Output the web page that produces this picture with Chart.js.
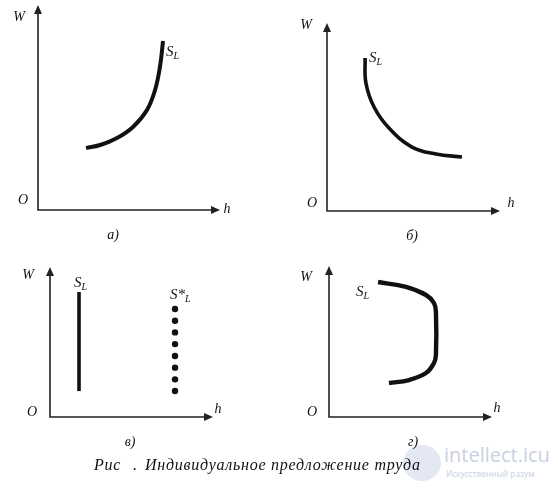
<!DOCTYPE html>
<html>
<head>
<meta charset="utf-8">
<script src="https://cdn.jsdelivr.net/npm/chart.js@4.4.1/dist/chart.umd.min.js"></script>
<style>
  html, body { margin: 0; padding: 0; background: #fff; }
  #wrap { position: relative; width: 558px; height: 490px; overflow: hidden; background: #fff; }
  #wrap canvas { position: absolute; left: 0; top: 0; }
  .cap { position: absolute; font: italic 16px "Liberation Serif", serif; letter-spacing: 0.75px; color: #111; white-space: nowrap; }
  .wm { position: absolute; font-family: "Open Sans", "DejaVu Sans", sans-serif; color: #c9d1e2; white-space: nowrap; }
</style>
</head>
<body>
<div id="wrap">
  <div class="wm" style="left:403px;top:445px;width:38px;height:36px;border-radius:50%;background:#e3e8f3;"></div>
  <div class="wm" style="left:444px;top:442px;font-size:20px;line-height:26px;">intellect.icu</div>
  <div class="wm" style="left:446px;top:468px;font-size:8.3px;line-height:11px;">Искусственный разум</div>
  <canvas id="pa" width="558" height="490"></canvas>
  <canvas id="pb" width="558" height="490"></canvas>
  <canvas id="pc" width="558" height="490"></canvas>
  <canvas id="pd" width="558" height="490"></canvas>
  <div class="cap" style="left:94px;top:456px;">Рис</div>
  <div class="cap" style="left:133px;top:456px;">.</div>
  <div class="cap" style="left:145px;top:456px;">Индивидуальное предложение труда</div>
</div>
<script>
// а) rising supply curve
const aHours = [2.64, 3.41, 4.34, 5.22, 5.99, 6.43, 6.70, 6.87];
const aWage  = [3.02, 3.17, 3.51, 4.05, 4.88, 5.85, 6.98, 8.24];

// б) falling supply curve
const bHours = [2.20, 2.25, 2.72, 3.58, 4.91, 6.30, 7.80];
const bWage  = [8.14, 6.81, 5.53, 4.41, 3.40, 3.03, 2.87];

// в) vertical supply: solid S_L and dotted S*_L
const cSolidHours = [1.78, 1.78];
const cSolidWage  = [1.73, 8.33];
const cDotHours = [7.67, 7.67, 7.67, 7.67, 7.67, 7.67, 7.67, 7.67];
const cDotWage  = [1.73, 2.51, 3.29, 4.07, 4.86, 5.64, 6.42, 7.20];

// г) bracket-shaped supply curve
const dHours = [3.68, 4.91, 5.95, 6.44, 6.56, 6.56, 6.44, 5.95, 4.72, 3.01];
const dWage  = [2.25, 2.45, 2.91, 3.58, 4.11, 6.95, 7.55, 8.08, 8.61, 8.94];

const panelNames = ["а)", "б)", "в)", "г)"];

const FONT = '"Liberation Serif", "Times New Roman", serif';
const INK = "#111";

function pts(xs, ys) {
  return xs.map((x, i) => ({ x, y: ys[i] }));
}

function subLabel(ctx, x, y, main) {
  ctx.font = `italic 15px ${FONT}`;
  ctx.textBaseline = "middle";
  ctx.textAlign = "left";
  ctx.fillText(main, x, y);
  const w = ctx.measureText(main).width;
  ctx.font = `italic 10px ${FONT}`;
  ctx.fillText("L", x + w, y + 4);
}

// draws the arrowed axes and the letters around them
function axesPlugin(cfg) {
  return {
    id: "axes",
    beforeDatasetsDraw(chart) {
      const { ctx, chartArea: a } = chart;
      ctx.save();
      ctx.strokeStyle = "#222";
      ctx.fillStyle = "#222";
      ctx.lineWidth = 1.6;
      ctx.beginPath();
      ctx.moveTo(a.left, a.top + 6);
      ctx.lineTo(a.left, a.bottom);
      ctx.lineTo(a.right - 6, a.bottom);
      ctx.stroke();
      ctx.beginPath();
      ctx.moveTo(a.left, a.top);
      ctx.lineTo(a.left - 4, a.top + 9);
      ctx.lineTo(a.left + 4, a.top + 9);
      ctx.closePath();
      ctx.fill();
      ctx.beginPath();
      ctx.moveTo(a.right, a.bottom);
      ctx.lineTo(a.right - 9, a.bottom - 4);
      ctx.lineTo(a.right - 9, a.bottom + 4);
      ctx.closePath();
      ctx.fill();

      ctx.fillStyle = INK;
      ctx.textBaseline = "middle";
      ctx.textAlign = "center";
      ctx.font = `italic 14px ${FONT}`;
      ctx.fillText("W", cfg.w[0], cfg.w[1]);
      ctx.fillText("O", cfg.o[0], cfg.o[1]);
      ctx.fillText("h", cfg.h[0], cfg.h[1]);
      ctx.fillText(cfg.name, cfg.n[0], cfg.n[1]);
      cfg.series.forEach(s => subLabel(ctx, s[1], s[2], s[0]));
      ctx.restore();
    }
  };
}

function curve(data, width) {
  return {
    data,
    showLine: true,
    borderColor: INK,
    borderWidth: width,
    pointRadius: 0,
    tension: 0.4,
    borderCapStyle: "butt",
    borderJoinStyle: "round"
  };
}

function panel(id, box, datasets, cfg) {
  return new Chart(document.getElementById(id), {
    type: "scatter",
    data: { datasets },
    options: {
      responsive: false,
      animation: false,
      events: [],
      layout: {
        padding: {
          left: box[0],
          right: 558 - box[2],
          top: box[3],
          bottom: 490 - box[1]
        }
      },
      scales: {
        x: { display: false, min: 0, max: 10 },
        y: { display: false, min: 0, max: 10 }
      },
      plugins: { legend: { display: false }, tooltip: { enabled: false } }
    },
    plugins: [axesPlugin(cfg)]
  });
}

// box: [origin x, origin y, h-arrow tip x, W-arrow tip y]
panel("pa", [38, 210, 220, 5],
  [curve(pts(aHours, aWage), 4)],
  { w: [19, 17], o: [23, 200], h: [227, 209], name: panelNames[0], n: [113, 235],
    series: [["S", 166, 52]] });

panel("pb", [327, 211, 500, 23],
  [curve(pts(bHours, bWage), 3.6)],
  { w: [306, 25], o: [312, 203], h: [511, 203], name: panelNames[1], n: [412, 236],
    series: [["S", 369, 58]] });

panel("pc", [50, 417, 213, 267],
  [
    curve(pts(cSolidHours, cSolidWage), 3.6),
    {
      data: pts(cDotHours, cDotWage),
      showLine: false,
      pointRadius: 3.2,
      pointBackgroundColor: INK,
      pointBorderWidth: 0
    }
  ],
  { w: [28, 275], o: [32, 412], h: [218, 409], name: panelNames[2], n: [130, 442],
    series: [["S", 74, 283], ["S*", 170, 295]] });

panel("pd", [329, 417, 492, 266],
  [curve(pts(dHours, dWage), 4.4)],
  { w: [306, 277], o: [312, 412], h: [497, 408], name: panelNames[3], n: [413, 442],
    series: [["S", 356, 292]] });
</script>
</body>
</html>
